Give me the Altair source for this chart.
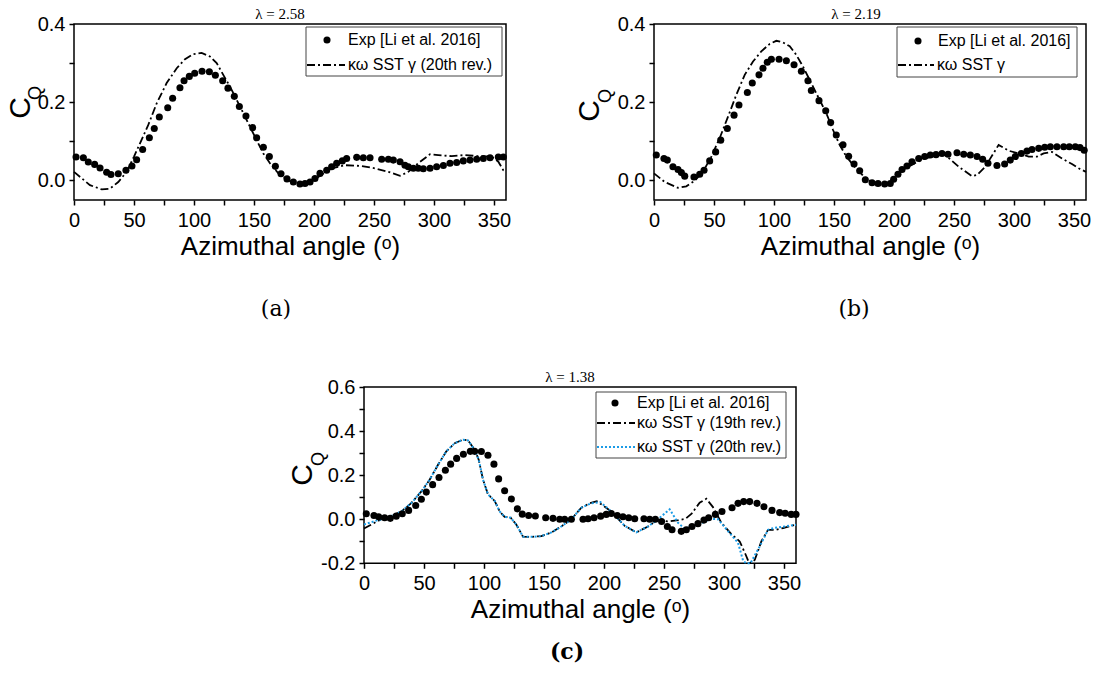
import altair as alt
import pandas as pd

SANS = "Liberation Sans"
SERIF = "Liberation Serif"
CAP_FONT = "DejaVu Serif"

# ---------------- data ----------------
# panel (a)  lambda = 2.58
a_exp_angle = [1.7, 7.8, 11.9, 17.2, 21.7, 27.2, 30.8, 36.9, 43.3, 48.3, 52.2, 57.2, 62.8, 66.9, 71.1,
               78.1, 82.2, 88.3, 91.7, 96.1, 100.6, 106.7, 112.8, 117.8, 123.9, 128.3, 133.6, 137.8,
               143.3, 148.9, 152.2, 157.8, 162.8, 167.8, 172.5, 177.5, 182.8, 188.3, 192.5, 196.7,
               200.8, 205.0, 210.6, 214.7, 218.9, 223.6, 227.2, 235.6, 241.1, 246.7, 256.4, 262.0,
               266.1, 271.7, 275.8, 278.6, 282.8, 286.9, 291.1, 296.7, 302.2, 307.8, 313.3, 318.9,
               324.4, 330.0, 335.6, 341.1, 346.7, 353.6, 357.8]
a_exp_cq = [0.060, 0.058, 0.047, 0.041, 0.032, 0.021, 0.015, 0.017, 0.026, 0.037, 0.053, 0.079, 0.109,
            0.133, 0.162, 0.186, 0.210, 0.237, 0.255, 0.266, 0.274, 0.279, 0.278, 0.269, 0.255, 0.236,
            0.215, 0.189, 0.165, 0.135, 0.109, 0.085, 0.061, 0.036, 0.017, 0.004, -0.004, -0.009,
            -0.008, -0.004, 0.005, 0.018, 0.026, 0.035, 0.044, 0.050, 0.056, 0.059, 0.058, 0.058,
            0.054, 0.054, 0.052, 0.048, 0.039, 0.035, 0.031, 0.031, 0.030, 0.031, 0.035, 0.038,
            0.044, 0.046, 0.050, 0.052, 0.054, 0.056, 0.058, 0.060, 0.060]
a_sst_angle = [0, 13.3, 23.1, 30.0, 36.9, 43.9, 50.0, 55.0, 61.9, 68.9, 77.2, 85.6, 92.5, 99.4, 106.4,
               113.3, 118.9, 124.4, 130.0, 135.6, 141.1, 146.7, 152.2, 157.8, 163.3, 170.3, 177.2,
               183.0, 190.0, 197.0, 203.6, 214.7, 225.8, 239.7, 250.8, 262.0, 271.7, 278.6, 286.9,
               296.7, 303.6, 314.7, 325.8, 336.9, 348.0, 353.6, 357.8, 360]
a_sst_cq = [0.022, -0.012, -0.023, -0.021, -0.004, 0.022, 0.061, 0.095, 0.142, 0.197, 0.249, 0.287,
            0.310, 0.323, 0.326, 0.317, 0.300, 0.270, 0.240, 0.206, 0.172, 0.137, 0.103, 0.069, 0.044,
            0.018, 0.003, -0.006, -0.011, -0.006, 0.009, 0.031, 0.039, 0.037, 0.031, 0.022, 0.012,
            0.022, 0.044, 0.067, 0.065, 0.062, 0.065, 0.062, 0.061, 0.048, 0.026, 0.022]

# panel (b)  lambda = 2.19
b_exp_angle = [1.9, 8.3, 11.1, 15.8, 20.0, 22.8, 25.6, 33.3, 38.1, 41.7, 46.4, 51.4, 55.6, 61.1, 66.7,
               70.8, 77.8, 81.9, 87.5, 90.8, 94.4, 97.8, 104.2, 110.3, 116.7, 122.8, 128.3, 131.1,
               137.5, 143.1, 147.2, 151.9, 157.5, 162.2, 166.7, 171.4, 176.1, 181.7, 186.7, 192.2,
               196.9, 199.7, 203.3, 206.7, 210.8, 215.0, 220.6, 225.6, 230.3, 235.0, 240.0, 245.0,
               252.5, 258.1, 263.6, 269.2, 273.9, 278.3, 285.8, 292.2, 296.9, 301.1, 306.1, 310.8,
               315.0, 320.6, 325.6, 330.3, 335.8, 341.4, 346.1, 351.1, 355.0, 358.5]
b_exp_cq = [0.065, 0.056, 0.052, 0.035, 0.028, 0.020, 0.011, 0.009, 0.016, 0.026, 0.050, 0.073, 0.103,
            0.133, 0.167, 0.193, 0.225, 0.249, 0.270, 0.287, 0.302, 0.310, 0.310, 0.306, 0.296, 0.279,
            0.255, 0.230, 0.204, 0.178, 0.148, 0.116, 0.091, 0.062, 0.042, 0.025, 0.002, -0.006,
            -0.008, -0.009, -0.008, 0.003, 0.016, 0.028, 0.037, 0.048, 0.056, 0.061, 0.065, 0.066,
            0.069, 0.067, 0.071, 0.067, 0.065, 0.061, 0.054, 0.044, 0.038, 0.042, 0.052, 0.061,
            0.069, 0.075, 0.079, 0.082, 0.085, 0.086, 0.086, 0.086, 0.086, 0.086, 0.084, 0.077]
b_sst_angle = [0, 8.9, 20.0, 26.9, 33.9, 40.8, 47.8, 54.7, 61.7, 68.6, 75.6, 82.5, 89.4, 96.4, 101.9,
               107.5, 113.1, 118.6, 124.2, 129.7, 136.7, 143.6, 149.2, 154.7, 160.3, 167.2, 174.2,
               181.7, 190.0, 196.9, 202.5, 209.4, 217.8, 225.6, 235.8, 242.8, 253.9, 265.0, 269.2,
               276.1, 279.4, 287.2, 295.6, 303.9, 312.2, 319.2, 324.7, 331.7, 340.0, 348.3, 353.9, 360]
b_sst_cq = [0.018, -0.004, -0.019, -0.015, -0.001, 0.022, 0.061, 0.108, 0.163, 0.219, 0.270, 0.304,
            0.330, 0.349, 0.357, 0.353, 0.343, 0.321, 0.291, 0.257, 0.214, 0.172, 0.129, 0.091, 0.061,
            0.035, 0.012, -0.005, -0.012, -0.008, 0.014, 0.031, 0.045, 0.056, 0.065, 0.065, 0.035,
            0.011, 0.014, 0.035, 0.052, 0.091, 0.076, 0.069, 0.061, 0.061, 0.069, 0.073, 0.056, 0.042,
            0.031, 0.022]

# panel (c)  lambda = 1.38
c_exp_angle = [1.9, 8.3, 12.2, 17.2, 21.9, 26.9, 31.9, 37.2, 43.1, 47.8, 51.9, 57.2, 62.5, 67.8, 72.2,
               77.2, 82.8, 88.6, 92.2, 97.8, 103.3, 108.3, 112.2, 117.2, 122.8, 127.8, 131.9, 137.2,
               142.8, 151.4, 157.5, 163.1, 167.2, 172.8, 182.5, 186.7, 191.7, 197.2, 201.9, 206.1,
               211.1, 215.8, 220.6, 225.6, 233.3, 238.1, 242.8, 248.0, 252.8, 256.7, 264.4, 268.6,
               273.3, 278.3, 283.3, 287.2, 292.8, 298.3, 306.7, 311.7, 316.4, 321.4, 327.5, 333.3,
               340.0, 346.4, 351.0, 356.0, 360.0]
c_exp_cq = [0.025, 0.017, 0.011, 0.007, 0.004, 0.014, 0.025, 0.040, 0.062, 0.091, 0.123, 0.157, 0.189,
            0.222, 0.250, 0.276, 0.295, 0.308, 0.308, 0.307, 0.290, 0.250, 0.183, 0.129, 0.092, 0.047,
            0.023, 0.017, 0.015, 0.007, 0.004, 0.000, 0.000, 0.000, 0.000, 0.002, 0.007, 0.014, 0.022,
            0.026, 0.017, 0.011, 0.007, 0.002, 0.002, 0.000, 0.000, -0.010, -0.033, -0.048, -0.055,
            -0.048, -0.033, -0.020, -0.004, 0.007, 0.022, 0.035, 0.052, 0.072, 0.080, 0.080, 0.072,
            0.057, 0.040, 0.030, 0.027, 0.022, 0.022]
c_rev19_angle = [0, 6.1, 14.4, 22.8, 31.1, 39.4, 47.8, 54.7, 61.7, 68.6, 75.6, 82.5, 86.7, 92.2, 95.6,
                 99.2, 103.3, 108.9, 113.1, 117.2, 122.2, 126.9, 132.5, 139.4, 147.8, 156.1, 164.4,
                 172.8, 181.1, 188.0, 194.0, 206.1, 217.2, 226.9, 236.7, 245.0, 253.0, 262.0, 268.0,
                 273.0, 279.7, 285.3, 290.8, 297.8, 306.1, 313.1, 318.0, 321.0, 325.6, 331.1, 336.7,
                 343.6, 349.2, 360]
c_rev19_cq = [-0.042, -0.024, 0.000, 0.015, 0.035, 0.073, 0.126, 0.179, 0.247, 0.308, 0.345, 0.361,
              0.358, 0.315, 0.270, 0.179, 0.113, 0.083, 0.035, 0.011, 0.007, -0.024, -0.079, -0.080,
              -0.077, -0.060, -0.033, 0.000, 0.052, 0.072, 0.082, 0.035, -0.030, -0.060, -0.033,
              -0.002, -0.010, -0.004, 0.002, 0.025, 0.075, 0.093, 0.055, -0.016, -0.067, -0.101,
              -0.160, -0.215, -0.185, -0.101, -0.048, -0.048, -0.040, -0.025]
c_rev20_angle = [0, 11.7, 14.4, 22.8, 31.1, 39.4, 47.8, 54.7, 61.7, 68.6, 75.6, 82.5, 86.7, 92.2, 95.6,
                 99.2, 103.3, 108.9, 113.1, 117.2, 122.2, 126.9, 132.5, 139.4, 147.8, 156.1, 164.4,
                 172.8, 181.1, 189.0, 197.0, 206.1, 217.2, 226.9, 236.7, 245.0, 254.7, 261.7, 267.2,
                 278.3, 289.4, 295.0, 303.3, 311.7, 316.0, 318.6, 322.0, 325.0, 329.7, 336.7, 342.2,
                 349.2, 360]
c_rev20_cq = [-0.024, -0.004, 0.000, 0.015, 0.035, 0.073, 0.126, 0.179, 0.247, 0.308, 0.345, 0.361,
              0.358, 0.315, 0.270, 0.179, 0.113, 0.083, 0.035, 0.011, 0.007, -0.024, -0.079, -0.080,
              -0.077, -0.060, -0.033, 0.000, 0.052, 0.072, 0.078, 0.035, -0.030, -0.060, -0.033,
              0.000, 0.045, -0.016, -0.043, -0.024, 0.002, 0.000, -0.054, -0.107, -0.190, -0.220,
              -0.220, -0.170, -0.124, -0.048, -0.039, -0.034, -0.025]

x_tick_values = [0, 25, 50, 75, 100, 125, 150, 175, 200, 225, 250, 275, 300, 325, 350]
y_ticks_ab = [0.0, 0.1, 0.2, 0.3, 0.4]
y_ticks_c = [-0.2, -0.1, 0.0, 0.1, 0.2, 0.3, 0.4, 0.5, 0.6]

LEG_EXP = "Exp [Li et al. 2016]"
X_TITLE = "Azimuthal angle (\u1d52)"

# ---------------- styling ----------------
DASHDOT = [8, 3, 2, 3]
DOT = [2, 2]
BLUE = "#1a9be6"
CANVAS_H = 688


def make_panel(x_range, y_range, y_domain, y_ticks, exp, curves):
    xs = alt.Scale(domain=[0, 360], range=x_range, nice=False, zero=False)
    ys = alt.Scale(domain=y_domain, range=y_range, nice=False, zero=False, clamp=True)
    xax = alt.Axis(orient="bottom", offset=y_range[0] - CANVAS_H, values=x_tick_values,
                   labelExpr="datum.value % 50 == 0 ? datum.value + '' : ''",
                   domain=False, grid=False, tickSize=5, tickWidth=1.5, tickColor="black",
                   labelFont=SANS, labelFontSize=20, labelColor="black", labelPadding=5,
                   labelFlush=False, labelOverlap=False,
                   title=X_TITLE, titleFont=SANS, titleFontSize=26, titleFontWeight="normal",
                   titleColor="black", titlePadding=3)
    yax = alt.Axis(orient="left", offset=-x_range[0], values=y_ticks,
                   labelExpr="abs(round(datum.value*10)) % 2 == 0 ? replace(format(datum.value, '.1f'), '\u2212', '-') : ''",
                   domain=False, grid=False, tickSize=5, tickWidth=1.5, tickColor="black",
                   labelFont=SANS, labelFontSize=20, labelColor="black", labelPadding=4,
                   labelFlush=False, labelOverlap=False, title=None)

    def X(field="angle"):
        return alt.X(f"{field}:Q", scale=xs, axis=xax)

    def Y(field="cq"):
        return alt.Y(f"{field}:Q", scale=ys, axis=yax)

    frame_df = pd.DataFrame({"angle": [0], "angle2": [360],
                             "cq": [y_domain[0]], "cq2": [y_domain[1]]})
    frame = alt.Chart(frame_df).mark_rect(fillOpacity=0, stroke="black", strokeWidth=1.5).encode(
        x=X(), x2="angle2:Q", y=Y(), y2="cq2:Q")
    layers = [frame]
    for (ang, cq, color, dash, width) in curves:
        d = pd.DataFrame({"angle": ang, "cq": cq})
        layers.append(alt.Chart(d).mark_line(color=color, strokeDash=dash, strokeWidth=width,
                                             clip=False).encode(x=X(), y=Y()))
    d = pd.DataFrame({"angle": exp[0], "cq": exp[1]})
    layers.append(alt.Chart(d).mark_circle(size=50, color="black", opacity=1).encode(x=X(), y=Y()))
    return alt.layer(*layers)


panel_a = make_panel([74, 506], [200, 24], [-0.05, 0.4], y_ticks_ab, (a_exp_angle, a_exp_cq),
                     [(a_sst_angle, a_sst_cq, "black", DASHDOT, 1.8)])
panel_b = make_panel([654, 1086], [200, 24], [-0.05, 0.4], y_ticks_ab, (b_exp_angle, b_exp_cq),
                     [(b_sst_angle, b_sst_cq, "black", DASHDOT, 1.8)])
panel_c = make_panel([364, 796], [563.3, 387], [-0.2, 0.6], y_ticks_c, (c_exp_angle, c_exp_cq),
                     [(c_rev19_angle, c_rev19_cq, "black", DASHDOT, 1.8),
                      (c_rev20_angle, c_rev20_cq, BLUE, DOT, 2.0)])

one = pd.DataFrame({"k": [0]})


def text(t, x, y, font=SANS, size=16, angle=0, align="left", weight="normal", color="black"):
    return alt.Chart(one).mark_text(text=t, font=font, fontSize=size, angle=angle, align=align,
                                    baseline="middle", fontWeight=weight, color=color).encode(
        x=alt.value(x), y=alt.value(y))


def rule(x1, x2, y, color="black", dash=None, width=1.8):
    kw = dict(color=color, strokeWidth=width)
    if dash is not None:
        kw["strokeDash"] = dash
    return alt.Chart(one).mark_rule(**kw).encode(x=alt.value(x1), x2=alt.value(x2), y=alt.value(y))


def box(x1, x2, y1, y2):
    return alt.Chart(one).mark_rect(fillOpacity=1, fill="white", stroke="#444444", strokeWidth=1).encode(
        x=alt.value(x1), x2=alt.value(x2), y=alt.value(y1), y2=alt.value(y2))


def dot(x, y):
    return alt.Chart(one).mark_point(filled=True, shape="circle", size=50, color="black", opacity=1).encode(
        x=alt.value(x), y=alt.value(y))


ann = []
# titles (lambda)
ann += [text("\u03bb = 2.58", 280, 14, font=SERIF, size=15, align="center"),
        text("\u03bb = 2.19", 856, 14, font=SERIF, size=15, align="center"),
        text("\u03bb = 1.38", 570, 377, font=SERIF, size=15, align="center")]
# y titles C_Q
for (cx, cy, qx, qy) in [(21, 108, 36, 93), (590, 111, 606, 96), (303, 475, 319, 459)]:
    ann.append(text("C", cx, cy, size=30, angle=270, align="center"))
    ann.append(text("Q", qx, qy, size=18, angle=270, align="center"))
# captions
ann += [text("(a)", 276, 309, font=CAP_FONT, size=22, align="center"),
        text("(b)", 854, 309, font=CAP_FONT, size=22, align="center"),
        text("(c)", 567, 652, font=CAP_FONT, size=22, align="center", weight="bold")]

# legends
legend = []
# (a)
legend += [box(306, 502, 27, 76), dot(327, 40), text(LEG_EXP, 348, 40),
           rule(307, 345, 65, dash=DASHDOT), text("\u03ba\u03c9 SST \u03b3 (20th rev.)", 348, 65)]
# (b)
legend += [box(897, 1077, 27, 77), dot(918, 41), text(LEG_EXP, 938, 41),
           rule(898, 934, 65, dash=DASHDOT), text("\u03ba\u03c9 SST \u03b3", 937, 65)]
# (c)
legend += [box(596, 786, 392, 458), dot(615, 403), text(LEG_EXP, 637, 403),
           rule(597, 635, 423, dash=DASHDOT), text("\u03ba\u03c9 SST \u03b3 (19th rev.)", 637, 423),
           rule(597, 635, 447, color=BLUE, dash=DOT, width=2.0),
           text("\u03ba\u03c9 SST \u03b3 (20th rev.)", 637, 447)]

chart = alt.layer(panel_a, panel_b, panel_c, *ann, *legend).resolve_scale(
    x="independent", y="independent"
).properties(
    width=1094, height=688, padding=0,
    autosize=alt.AutoSizeParams(type="none"),
    background="white",
).configure_view(strokeWidth=0)

chart.save("out.html", embed_options={"renderer": "svg", "actions": False})
